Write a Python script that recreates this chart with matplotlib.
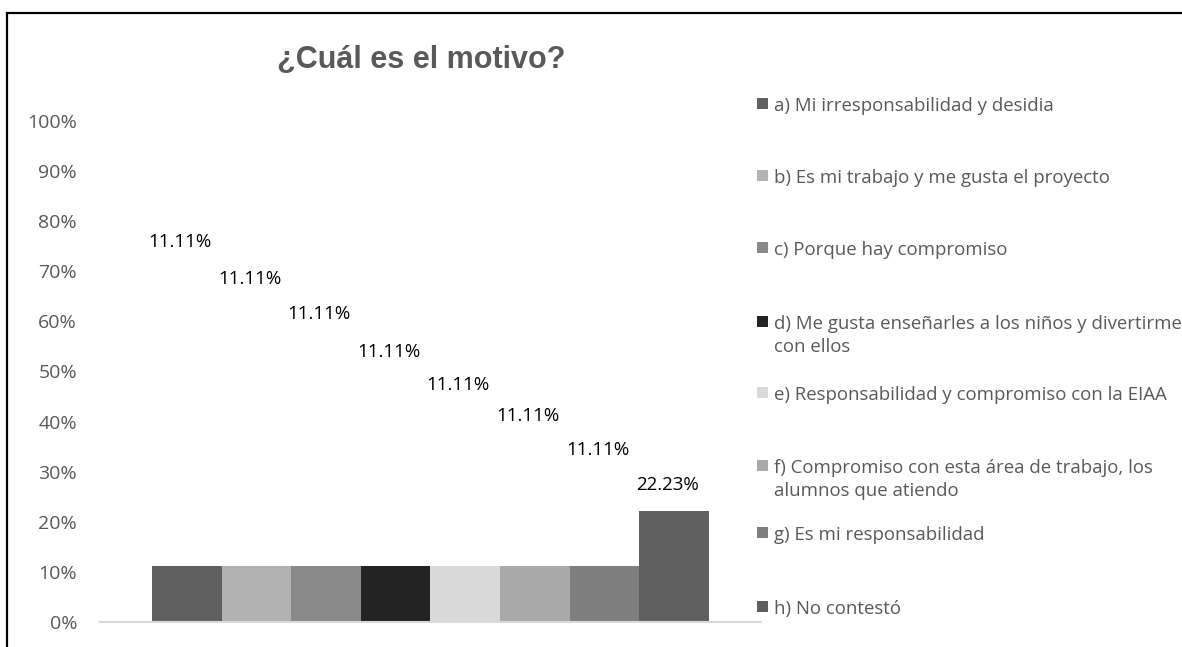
import matplotlib
matplotlib.use("Agg")
import matplotlib.pyplot as plt
from matplotlib.patches import Rectangle

categories = [
    "a) Mi irresponsabilidad y desidia",
    "b) Es mi trabajo y me gusta el proyecto",
    "c) Porque hay compromiso",
    "d) Me gusta enseñarles a los niños y divertirme\ncon ellos",
    "e) Responsabilidad y compromiso con la EIAA",
    "f) Compromiso con esta área de trabajo, los\nalumnos que atiendo",
    "g) Es mi responsabilidad",
    "h) No contestó",
]
values = [0.1111, 0.1111, 0.1111, 0.1111, 0.1111, 0.1111, 0.1111, 0.2223]
value_labels = ["11.11%", "11.11%", "11.11%", "11.11%", "11.11%", "11.11%", "11.11%", "22.23%"]
colors = ["#606060", "#b2b2b2", "#898989", "#232323", "#d9d9d9", "#a9a9a9", "#7f7f7f", "#5f5f5f"]
yticks = [0, 0.1, 0.2, 0.3, 0.4, 0.5, 0.6, 0.7, 0.8, 0.9, 1.0]
ytick_labels = ["0%", "10%", "20%", "30%", "40%", "50%", "60%", "70%", "80%", "90%", "100%"]

# layout (label heights as Excel placed them, legend rows in pixels)
label_y = [0.758, 0.685, 0.615, 0.539, 0.473, 0.411, 0.343, 0.273]
legend_rows_px = [103, 175, 247, 321, 392, 465, 532, 606]
legend_line_px = 23

W, H = 1182, 647
fig = plt.figure(figsize=(W / 100, H / 100), dpi=100)
fig.patch.set_facecolor("white")

# outer frame (cut off at right/bottom)
fig.add_artist(Rectangle((7 / W, -0.1), 1.2, 1 - 13 / H + 0.1, transform=fig.transFigure,
                         fill=False, edgecolor="black", linewidth=1.6))

ax_l, ax_r = 100, 761
ax_b, ax_t = 622, 121
ax = fig.add_axes([ax_l / W, 1 - ax_b / H, (ax_r - ax_l) / W, (ax_b - ax_t) / H])
ax.set_facecolor("none")

x = list(range(len(values)))
ax.bar(x, values, width=1.0, color=colors, edgecolor="none")
ax.set_xlim(-1.246, len(values) - 1 + 1.246)
ax.set_ylim(0, 1.0)
ax.set_yticks(yticks)
ax.set_yticklabels(ytick_labels, fontfamily="Open Sans", fontsize=14, color="#595959")
ax.tick_params(axis="y", length=0, pad=16.5)
ax.set_xticks([])
for s in ["top", "right", "left"]:
    ax.spines[s].set_visible(False)
ax.spines["bottom"].set_color("#d9d9d9")
ax.spines["bottom"].set_linewidth(1.5)

for xi, lab, ly in zip(x, value_labels, label_y):
    ax.text(xi - 0.1, ly, lab, ha="center", va="center", fontsize=13.5,
            fontfamily="Open Sans", color="black")

fig.text(421 / W, 1 - 68 / H, "¿Cuál es el motivo?", ha="center", va="baseline",
         fontsize=22, fontweight="bold", fontfamily="Liberation Sans", color="#595959")

for lab, col, ypx in zip(categories, colors, legend_rows_px):
    fig.add_artist(Rectangle((757 / W, 1 - (ypx + 5.5) / H), 11 / W, 11 / H,
                             transform=fig.transFigure, facecolor=col, edgecolor="none"))
    for i, line in enumerate(lab.split("\n")):
        fig.text(774 / W, 1 - (ypx + 1 + i * legend_line_px) / H, line, ha="left",
                 va="center_baseline", fontsize=13.4, fontfamily="Open Sans", color="#595959")

fig.savefig("out.png", dpi=100)
